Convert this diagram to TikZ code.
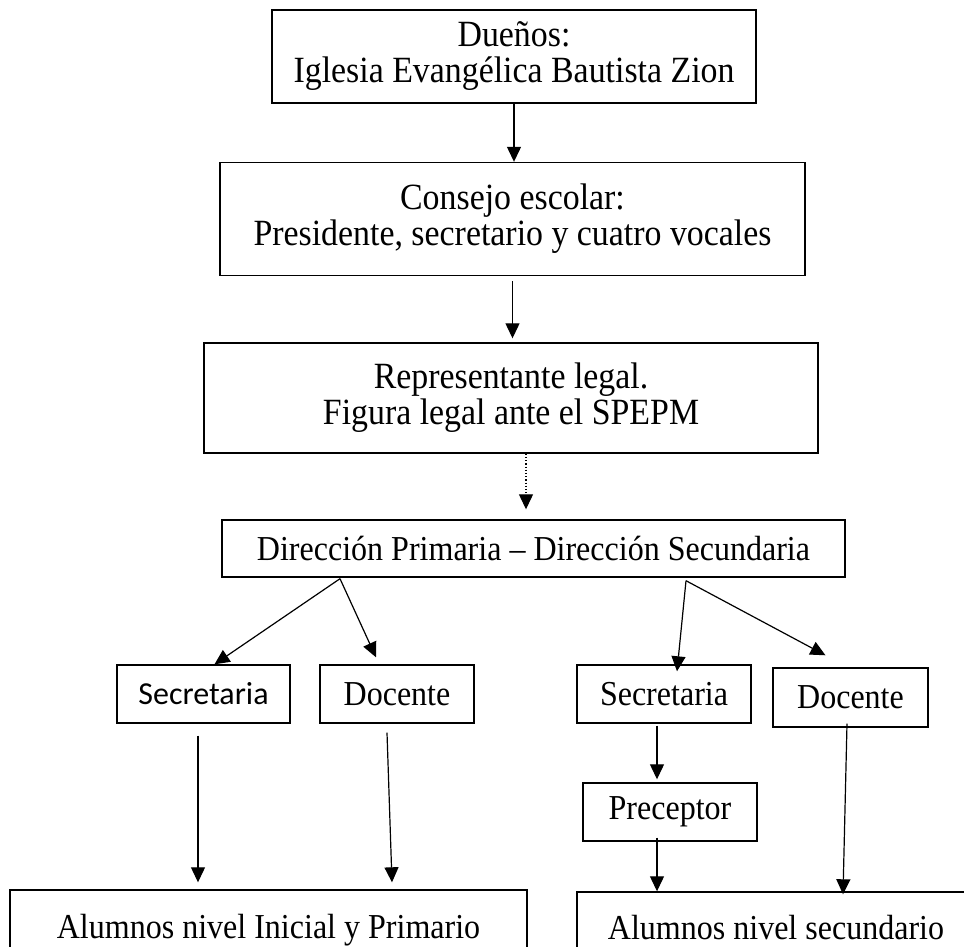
\documentclass[tikz,border=0pt]{standalone}
\usepackage{fontspec}
\setmainfont{Liberation Serif}[FakeStretch=0.915]
\newfontfamily\calibri{Carlito}
\usetikzlibrary{arrows.meta,calc}

\begin{document}
\begin{tikzpicture}[>={Triangle[length=15pt,width=14pt]}, x=1pt, y=-1pt,
  caja/.style={draw, line width=1.4pt, align=center, inner sep=0pt,
    font=\fontsize{35}{36}\selectfont},
  grande/.style={font=\fontsize{37}{36}\selectfont},
  flecha/.style={->, line width=1.2pt}]
  \clip (0,0) rectangle (964,947);

  % cajas principales
  \node[caja, grande, minimum width=484, minimum height=93] (duenos) at (514,56.5)
    {Dueños:\\Iglesia Evangélica Bautista Zion};
  \node[caja, grande, minimum width=585, minimum height=113] (consejo) at (512.5,219)
    {Consejo escolar:\\Presidente, secretario y cuatro vocales};
  \node[caja, grande, minimum width=614, minimum height=110] (repre) at (511,398)
    {Representante legal.\\Figura legal ante el SPEPM};
  \node[caja, minimum width=623, minimum height=57] (dir) at (533.5,548.5)
    {Dirección Primaria – Dirección Secundaria};

  % primaria
  \node[caja, minimum width=173, minimum height=58,
    font=\calibri\fontsize{32}{36}\selectfont] (secp) at (203.5,694) {Secretaria};
  \node[caja, minimum width=154, minimum height=58] (docp) at (397,694) {Docente};
  \node[caja, minimum width=517, minimum height=80] (alup) at (268.5,930)
    {Alumnos nivel Inicial y Primario};

  % secundaria
  \node[caja, minimum width=174, minimum height=58] (secs) at (664,694) {Secretaria};
  \node[caja, minimum width=155, minimum height=59] (docs) at (850.5,697.5) {Docente};
  \node[caja, minimum width=174, minimum height=58] (prec) at (670,812) {Preceptor};
  \node[caja, minimum width=398, minimum height=72] (alus) at (776,928)
    {Alumnos nivel secundario};

  % flechas de arriba
  \draw[flecha] (duenos.south) -- (duenos.south |- consejo.north);
  \draw[flecha, shorten <=5pt, shorten >=4pt]
    (consejo.south) -- (consejo.south |- repre.north);
  \draw[flecha, dotted, shorten >=10pt]
    ([xshift=15pt]repre.south) -- ([xshift=15pt]repre.south |- dir.north);

  % ramas de la direccion
  \coordinate (dl) at ([xshift=-193.5pt, yshift=-1pt]dir.south);
  \coordinate (dr) at ([xshift=152.5pt, yshift=-3pt]dir.south);
  \draw[flecha] (dl) -- ([xshift=11pt]secp.north);
  \draw[flecha] (dl) -- ([xshift=-21pt, yshift=7pt]docp.north);
  \draw[flecha] (dr) -- ([xshift=13pt, yshift=-7pt]secs.north);
  \draw[flecha] (dr) -- ([xshift=-25pt, yshift=12pt]docs.north);

  % hacia los alumnos
  \draw[flecha, shorten >=7pt]
    ([xshift=-5.5pt, yshift=-12pt]secp.south) -- ([xshift=-70.5pt]alup.north);
  \draw[flecha]
    ([xshift=-10pt, yshift=-9pt]docp.south) -- ([xshift=123.5pt, yshift=7pt]alup.north);
  \draw[flecha]
    ([xshift=-7pt, yshift=-2pt]secs.south) -- ([xshift=-13pt, yshift=3pt]prec.north);
  \draw[flecha]
    ([xshift=-13pt, yshift=4pt]prec.south) -- ([xshift=-119pt]alus.north);
  \draw[flecha]
    ([xshift=-3.5pt, yshift=4pt]docs.south) -- ([xshift=67pt, yshift=-3pt]alus.north);
\end{tikzpicture}
\end{document}
